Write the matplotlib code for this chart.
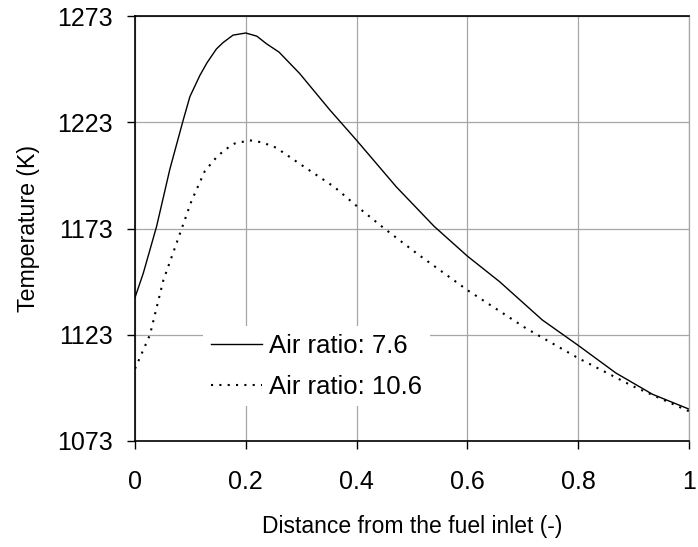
import matplotlib
matplotlib.use("Agg")
import matplotlib.pyplot as plt

plt.rcParams['font.family'] = ['Liberation Sans', 'DejaVu Sans']

x_76 = [0, 0.015, 0.039, 0.063, 0.087, 0.099, 0.117, 0.13, 0.147, 0.159, 0.177, 0.2,
        0.22, 0.237, 0.26, 0.297, 0.351, 0.4, 0.472, 0.54, 0.6, 0.658, 0.735, 0.8,
        0.868, 0.934, 1.0]
t_76 = [1140.5, 1152, 1174, 1201, 1224, 1235, 1245, 1251, 1257.5, 1260.5, 1264, 1265,
        1263.5, 1260, 1256, 1246, 1229, 1214.5, 1192.5, 1174, 1160, 1148, 1130, 1118,
        1105, 1095, 1088]

x_106 = [0, 0.027, 0.051, 0.081, 0.102, 0.126, 0.147, 0.162, 0.18, 0.207, 0.23, 0.255,
         0.297, 0.36, 0.405, 0.45, 0.51, 0.571, 0.6, 0.706, 0.8, 0.897, 1.0]
t_106 = [1107, 1123, 1148.5, 1170.5, 1186, 1200, 1206.5, 1210, 1213, 1214.5, 1213.5,
         1211, 1203.5, 1192.5, 1182.5, 1173, 1161, 1149.5, 1144, 1126, 1112, 1099, 1087]

labels = ['Air ratio: 7.6', 'Air ratio: 10.6']
x_ticks = [0, 0.2, 0.4, 0.6, 0.8, 1]
x_ticklabels = ['0', '0.2', '0.4', '0.6', '0.8', '1']
y_ticks = [1073, 1123, 1173, 1223, 1273]

fig = plt.figure(figsize=(6.98, 5.47), dpi=100)
ax = fig.add_axes([135/698, 1-441/547, 554/698, 425/547])

ax.plot(x_76, t_76, color='black', lw=1.0, linestyle='-', label=labels[0])
ax.plot(x_106, t_106, color='black', lw=1.5, linestyle=(0, (1, 3)), label=labels[1])

ax.set_xlim(0, 1)
ax.set_ylim(1073, 1273)
ax.set_xticks(x_ticks)
ax.set_xticklabels(x_ticklabels)
ax.set_yticks(y_ticks)
ax.grid(True, color='#a6a6a6', lw=0.9)
ax.set_axisbelow(True)

for s in ['left', 'bottom', 'top']:
    ax.spines[s].set_color('black')
    ax.spines[s].set_linewidth(1.2)
ax.spines['right'].set_color('#a6a6a6')
ax.spines['right'].set_linewidth(0.9)

ax.tick_params(axis='y', direction='out', length=6, width=1, pad=10, labelsize=18)
ax.tick_params(axis='x', direction='out', length=6, width=1, pad=15, labelsize=18)

ax.set_xlabel('Distance from the fuel inlet (-)', fontsize=16.5, labelpad=15)
ax.set_ylabel('Temperature (K)', fontsize=16.7, labelpad=12)

leg = ax.legend(loc='upper left', bbox_to_anchor=(0.123, 0.27), fontsize=18.5,
                frameon=True, fancybox=False, framealpha=1, facecolor='white',
                edgecolor='none', handlelength=2.0, handletextpad=0.27,
                labelspacing=0.65, borderpad=0.3, borderaxespad=0)

fig.savefig('out.png', dpi=100)
